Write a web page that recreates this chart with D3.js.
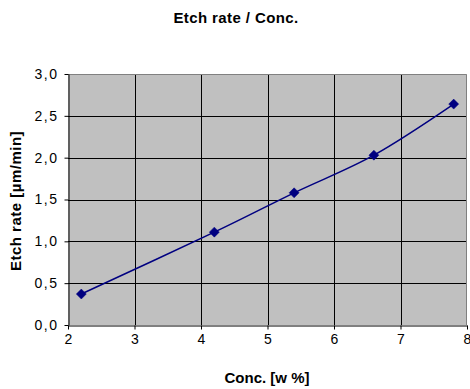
<!DOCTYPE html>
<html>
<head>
<meta charset="utf-8">
<script src="https://cdn.jsdelivr.net/npm/d3@7"></script>
<style>
  html, body { margin: 0; padding: 0; background: #fff; }
  svg { display: block; font-family: "Liberation Sans", Arial, sans-serif; }
</style>
</head>
<body>
<svg id="chart" width="470" height="389"></svg>
<script>
// Etch rate measured against concentration
const concentration = [2.2, 4.2, 5.4, 6.6, 7.8];
const etchRate = [0.37, 1.11, 1.58, 2.03, 2.64];
const xTicks = [2, 3, 4, 5, 6, 7, 8];
const yTicks = [0, 0.5, 1.0, 1.5, 2.0, 2.5, 3.0];

const svg = d3.select("#chart");
const plot = { left: 68, right: 467, top: 74, bottom: 325 };

const x = d3.scaleLinear().domain([2, 8]).range([plot.left, plot.right]);
const y = d3.scaleLinear().domain([0, 3]).range([plot.bottom, plot.top]);
const fmt = v => d3.format(".1f")(v).replace(".", ",");

// plot background
svg.append("rect")
  .attr("x", plot.left).attr("y", plot.top)
  .attr("width", plot.right - plot.left).attr("height", plot.bottom - plot.top)
  .attr("fill", "#c0c0c0");

// gridlines
svg.append("g").selectAll("line").data(yTicks.filter(v => v > 0 && v < 3)).join("line")
  .attr("x1", plot.left).attr("x2", plot.right)
  .attr("y1", d => Math.round(y(d)) + 0.5).attr("y2", d => Math.round(y(d)) + 0.5)
  .attr("stroke", "#000").attr("stroke-width", 1);
svg.append("g").selectAll("line").data(xTicks.filter(v => v > 2 && v < 8)).join("line")
  .attr("x1", d => Math.round(x(d)) + 0.5).attr("x2", d => Math.round(x(d)) + 0.5)
  .attr("y1", plot.top).attr("y2", plot.bottom)
  .attr("stroke", "#000").attr("stroke-width", 1);

// top and right frame
svg.append("path")
  .attr("d", `M${plot.left},${plot.top + 0.5}H${plot.right - 0.5}V${plot.bottom}`)
  .attr("fill", "none").attr("stroke", "#808080").attr("stroke-width", 1);

// axes
const xAxis = svg.append("g")
  .attr("transform", `translate(0,${plot.bottom + 0.5})`)
  .call(d3.axisBottom(x).tickValues(xTicks).tickSize(4).tickSizeOuter(0).tickPadding(5)
    .tickFormat(d3.format("d")));
const yAxis = svg.append("g")
  .attr("transform", `translate(${plot.left + 0.5},0)`)
  .call(d3.axisLeft(y).tickValues(yTicks).tickSize(4).tickSizeOuter(0).tickPadding(7)
    .tickFormat(fmt));
[xAxis, yAxis].forEach(g => {
  g.selectAll(".domain").attr("stroke", "#000");
  g.selectAll(".tick line").attr("stroke", "#000");
  g.selectAll(".tick text")
    .attr("fill", "#000")
    .style("font-family", "'Liberation Sans', Arial, sans-serif")
    .style("font-size", "14px");
});
yAxis.selectAll(".tick text").style("letter-spacing", "1.5px").attr("dx", "1");

// smoothed series line
const line = d3.line()
  .x((d, i) => x(concentration[i]))
  .y(d => y(d))
  .curve(d3.curveCardinal.tension(0));
svg.append("path")
  .datum(etchRate)
  .attr("d", line)
  .attr("fill", "none")
  .attr("stroke", "#000080")
  .attr("stroke-width", 1.5);

// diamond markers
svg.append("g").selectAll("path").data(etchRate).join("path")
  .attr("transform", (d, i) => `translate(${x(concentration[i])},${y(d)})`)
  .attr("d", "M0,-5L5,0L0,5L-5,0Z")
  .attr("fill", "#000080")
  .attr("stroke", "#000080")
  .attr("stroke-width", 0.5);

// titles
svg.append("text")
  .attr("x", 236).attr("y", 23)
  .attr("text-anchor", "middle")
  .style("font-size", "15px").style("font-weight", "bold")
  .style("letter-spacing", "0.4px")
  .text("Etch rate / Conc.");

svg.append("text")
  .attr("x", 267).attr("y", 383)
  .attr("text-anchor", "middle")
  .style("font-size", "15px").style("font-weight", "bold")
  .text("Conc. [w %]");

svg.append("text")
  .attr("transform", "translate(21,201) rotate(-90)")
  .attr("text-anchor", "middle")
  .style("font-size", "15px").style("font-weight", "bold")
  .style("letter-spacing", "0.5px")
  .text("Etch rate [µm/min]");
</script>
</body>
</html>
